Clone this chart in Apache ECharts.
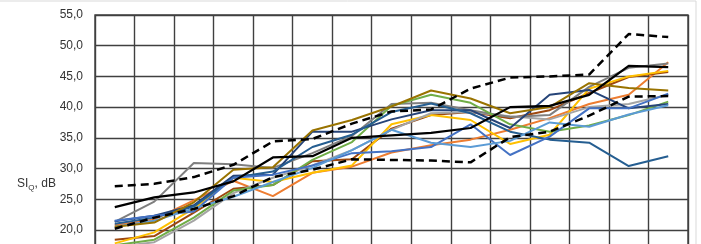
<!DOCTYPE html>
<html>
<head>
<meta charset="utf-8">
<script src="https://cdn.jsdelivr.net/npm/echarts@6/dist/echarts.min.js"></script>
<style>
html,body{margin:0;padding:0;background:#fff;overflow:hidden;}
#chart{width:701px;height:290px;}
</style>
</head>
<body>
<div id="chart"></div>
<script>
var categories = ['1','2','3','4','5','6','7','8','9','10','11','12','13','14','15'];
var yTicks = [15, 20, 25, 30, 35, 40, 45, 50, 55];

var orange    = [20.8, 21.7, 24.8, 28.0, 25.5, 29.3, 30.3, 32.6, 33.8, 34.7, 36.3, 38.2, 40.5, 42.0, 47.3];
var brown     = [18.4, 19.0, 22.8, 26.7, 27.3, 31.2, 31.5, 36.5, 38.7, 39.2, 38.2, 39.5, 42.3, 44.9, 45.7];
var gold      = [17.8, 19.6, 23.5, 28.5, 27.8, 29.3, 30.5, 37.2, 38.7, 37.9, 34.0, 35.5, 43.0, 45.0, 45.9];
var lightGray = [17.2, 18.0, 21.5, 26.0, 28.5, 30.5, 33.0, 36.3, 39.0, 39.2, 38.5, 38.0, 40.0, 40.5, 42.0];
var darkGray  = [21.3, 24.6, 30.9, 30.7, 30.1, 32.5, 35.3, 40.5, 40.7, 39.5, 38.4, 38.7, 43.3, 46.4, 47.1];
var green     = [17.5, 18.4, 22.0, 26.4, 27.3, 31.4, 34.3, 40.2, 42.0, 40.7, 37.2, 36.0, 37.0, 38.7, 40.9];
var navy      = [21.4, 22.3, 24.0, 28.8, 29.0, 36.0, 36.0, 38.0, 39.5, 39.5, 36.6, 42.0, 42.8, 39.8, 40.5];
var darkBlue  = [21.0, 22.0, 23.8, 28.5, 29.5, 33.5, 35.5, 39.2, 40.6, 39.0, 36.0, 34.7, 34.2, 30.4, 32.0];
var blue      = [21.5, 22.3, 23.0, 28.5, 29.0, 30.5, 32.5, 32.8, 33.5, 37.2, 32.2, 35.2, 39.8, 39.8, 42.2];
var lightBlue = [20.5, 21.5, 23.5, 25.4, 27.8, 30.1, 33.0, 36.3, 34.2, 33.5, 34.5, 37.5, 36.8, 38.8, 40.3];
var olive     = [20.5, 21.2, 24.5, 29.8, 30.2, 36.2, 37.9, 40.1, 42.7, 41.4, 39.0, 40.0, 43.9, 43.1, 42.7];
var meanLine  = [23.7, 25.3, 26.1, 27.9, 31.8, 32.0, 35.0, 35.4, 35.8, 36.6, 40.0, 40.2, 42.0, 46.7, 46.5];
var upperDash = [27.1, 27.5, 28.6, 30.6, 34.4, 34.8, 37.3, 39.3, 39.6, 43.0, 44.8, 45.0, 45.3, 51.9, 51.4];
var lowerDash = [20.2, 22.0, 23.4, 25.5, 28.6, 29.8, 31.5, 31.4, 31.3, 31.0, 35.1, 36.0, 38.6, 41.7, 41.8];

var colored = [
  [orange, '#ED7D31'], [brown, '#9E480E'], [gold, '#FFC000'], [lightGray, '#A5A5A5'],
  [darkGray, '#7F7F7F'], [green, '#70AD47'], [navy, '#264478'], [darkBlue, '#255E91'],
  [blue, '#4472C4'], [lightBlue, '#5B9BD5'], [olive, '#997300']
];

var gridColor = '#404040';
var gridLineStyle = {color: gridColor, width: 1.4, type: 'solid'};
var yMin = yTicks[0], yMax = yTicks[yTicks.length - 1];

var series = [];
colored.forEach(function (c) {
  series.push({type: 'line', data: c[0], symbol: 'none', lineStyle: {color: c[1], width: 2}, z: 2});
});
series.push({type: 'line', data: lowerDash, symbol: 'none', lineStyle: {color: '#000', width: 2.5, type: [8, 5]}, z: 3});
series.push({type: 'line', data: upperDash, symbol: 'none', lineStyle: {color: '#000', width: 2.5, type: [8, 5]}, z: 3});
series.push({type: 'line', data: meanLine, symbol: 'none', lineStyle: {color: '#000', width: 2.2}, z: 3});

var chart = echarts.init(document.getElementById('chart'), null, {renderer: 'canvas'});
chart.setOption({
  animation: false,
  backgroundColor: '#fff',
  grid: {left: 95, top: 15, width: 593, height: 245.6, show: true, borderColor: gridColor, borderWidth: 1.4, backgroundColor: 'transparent'},
  xAxis: {
    type: 'category', data: categories, boundaryGap: true,
    axisLabel: {show: false}, axisTick: {show: false},
    axisLine: {show: true, lineStyle: gridLineStyle},
    splitLine: {show: true, interval: 0, lineStyle: gridLineStyle}
  },
  yAxis: {
    type: 'value', min: yMin, max: yMax, interval: 5,
    axisLine: {show: false}, axisTick: {show: false},
    axisLabel: {
      margin: 12, color: '#333333', fontFamily: 'Liberation Sans', fontSize: 12,
      formatter: function (v) { return v.toFixed(1).replace('.', ','); }
    },
    splitLine: {show: true, lineStyle: gridLineStyle}
  },
  graphic: [
    {type: 'rect', shape: {x: -2, y: 1, width: 698, height: 300}, style: {fill: 'none', stroke: '#d9d9d9', lineWidth: 1}, silent: true},
    {type: 'text', left: 17, top: 178, style: {
      text: 'SI{s|Q}, dB',
      font: '12px "Liberation Sans"', fill: '#333333',
      rich: {s: {fontSize: 8, fontFamily: 'Liberation Sans', fill: '#333333', padding: [7, 0, 0, 0]}}
    }}
  ],
  series: series
});
</script>
</body>
</html>
